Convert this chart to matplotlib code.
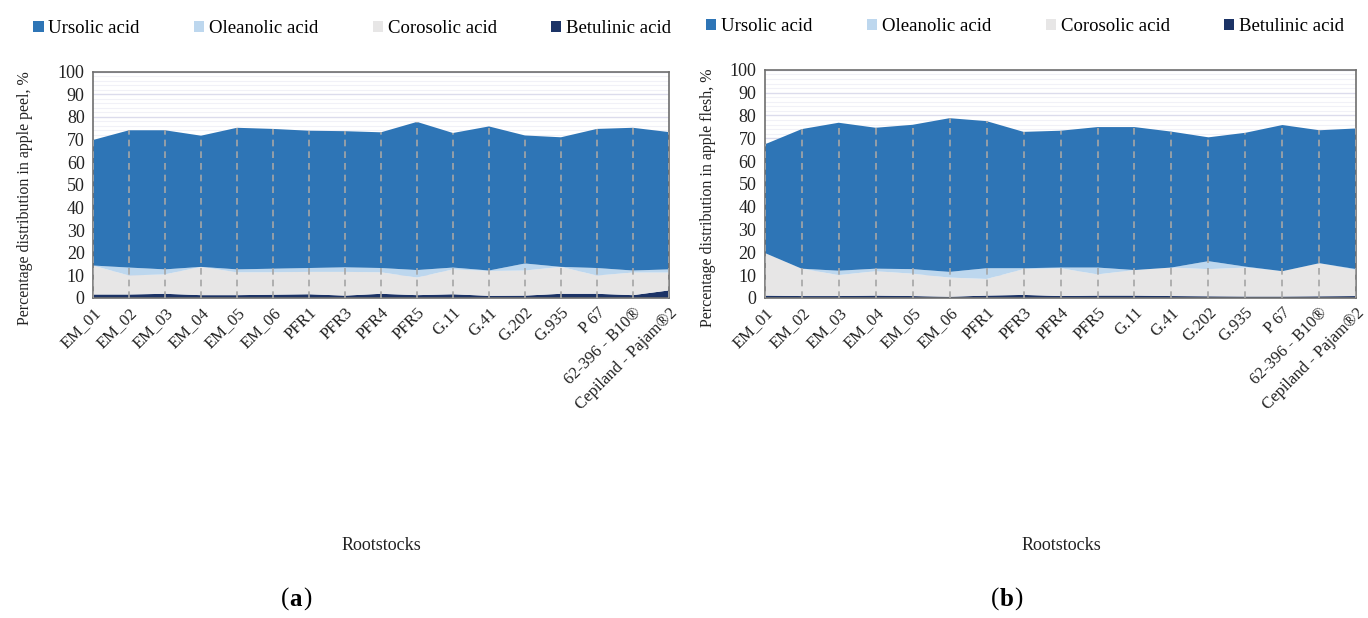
import matplotlib
matplotlib.use('Agg')
import matplotlib.pyplot as plt
import numpy as np

plt.rcParams['font.family'] = ['Liberation Serif', 'DejaVu Serif']

rootstocks = ['EM_01', 'EM_02', 'EM_03', 'EM_04', 'EM_05', 'EM_06', 'PFR1', 'PFR3', 'PFR4',
              'PFR5', 'G.11', 'G.41', 'G.202', 'G.935', 'P 67', '62-396 - B10®',
              'Cepiland - Pajam®2']
acids = ['Ursolic acid', 'Oleanolic acid', 'Corosolic acid', 'Betulinic acid']
colors = ['#2e75b6', '#bdd7ee', '#e7e6e6', '#1c3366']

### (a) apple peel, %
peel_betulinic = [1.5, 1.5, 1.8, 1.2, 1.2, 1.4, 1.6, 1.0, 1.8, 1.2, 1.6, 0.9, 1.0, 1.8, 1.8, 1.2, 3.3]
peel_corosolic = [12.8, 8.4, 8.6, 12.5, 10.1, 9.9, 9.9, 10.5, 9.5, 7.8, 11.0, 11.0, 11.1, 11.9, 8.1, 10.0, 7.9]
peel_oleanolic = [0.0, 3.5, 2.2, 0.0, 1.3, 1.6, 1.7, 2.0, 1.9, 3.3, 0.8, 0.2, 3.1, 0.0, 3.3, 0.9, 1.4]
peel_ursolic = [55.5, 60.7, 61.5, 58.0, 62.6, 61.8, 60.7, 60.2, 60.0, 65.5, 59.5, 63.7, 56.6, 57.3, 61.5, 63.1, 60.7]

### (b) apple flesh, %
flesh_betulinic = [1.0, 0.8, 0.8, 1.0, 0.8, 0.5, 1.0, 1.3, 0.8, 1.0, 1.0, 0.8, 0.7, 0.6, 0.6, 0.7, 0.8]
flesh_corosolic = [18.7, 12.0, 9.2, 10.7, 9.8, 8.4, 7.3, 11.3, 12.2, 9.3, 11.2, 12.5, 11.9, 12.7, 11.1, 14.5, 11.4]
flesh_oleanolic = [0.0, 0.0, 1.9, 1.1, 2.0, 2.5, 4.7, 0.4, 0.3, 3.0, 0.0, 0.0, 3.5, 0.4, 0.0, 0.0, 0.4]
flesh_ursolic = [47.6, 61.2, 64.9, 61.8, 63.3, 67.4, 64.5, 59.8, 60.0, 61.6, 62.7, 59.6, 54.3, 58.7, 64.1, 58.3, 61.7]

fig = plt.figure(figsize=(13.68, 6.18), dpi=100)
ax_a = fig.add_axes([0.068, 0.518, 0.421, 0.366])
ax_b = fig.add_axes([0.559, 0.518, 0.4325, 0.369])


def draw_panel(ax, layers, ylabel, legend_x, label_x):
    x = np.arange(len(rootstocks))
    # stack from the bottom: betulinic, corosolic, oleanolic, ursolic
    ax.stackplot(x, *layers[::-1], colors=colors[::-1], labels=acids[::-1], linewidth=0, zorder=2)
    total = np.sum(np.array(layers), axis=0)
    ax.vlines(x, 0, total, colors='#a6a6a6', linestyles=(0, (4, 3)), linewidth=1.2, zorder=3)

    ax.set_xlim(0, len(rootstocks) - 1)
    ax.set_ylim(0, 100)
    ax.set_yticks(range(0, 101, 10))
    ax.set_yticks(range(0, 101, 2), minor=True)
    ax.grid(True, axis='y', which='major', color='#dcdcec', linewidth=1.0, zorder=0)
    ax.grid(True, axis='y', which='minor', color='#f1f1f7', linewidth=0.8, zorder=0)
    ax.set_axisbelow(True)
    ax.set_xticks(x)
    ax.set_xticklabels(rootstocks, rotation=45, ha='right', rotation_mode='anchor')
    ax.tick_params(axis='both', which='both', length=0, colors='#222222')
    ax.tick_params(axis='x', labelsize=12, pad=5)
    ax.tick_params(axis='y', labelsize=13, pad=6)
    for s in ax.spines.values():
        s.set_color('#6e6e6e')
        s.set_linewidth(1.2)
    ax.set_ylabel(ylabel, fontsize=11.5, color='#222222')
    ax.yaxis.set_label_coords(label_x, 0.44)

    handles, labels = ax.get_legend_handles_labels()
    ax.legend(handles[::-1], labels[::-1], loc='lower center', bbox_to_anchor=(legend_x, 1.12),
              ncol=4, frameon=False, fontsize=13.5, handlelength=0.55, handleheight=0.55,
              handletextpad=0.25, columnspacing=2.9, borderaxespad=0)


draw_panel(ax_a, [peel_ursolic, peel_oleanolic, peel_corosolic, peel_betulinic],
           'Percentage distribution in apple peel, %', 0.45, -0.105)
draw_panel(ax_b, [flesh_ursolic, flesh_oleanolic, flesh_corosolic, flesh_betulinic],
           'Percentage distribution in apple flesh, %', 0.44, -0.083)

fig.text(0.279, 0.118, 'Rootstocks', ha='center', va='center', fontsize=13, color='#222222')
fig.text(0.776, 0.118, 'Rootstocks', ha='center', va='center', fontsize=13, color='#222222')
fig.text(0.2115, 0.03, '(', ha='right', va='center', fontsize=18)
fig.text(0.2115, 0.03, 'a', ha='left', va='center', fontsize=18, fontweight='bold')
fig.text(0.2215, 0.03, ')', ha='left', va='center', fontsize=18)
fig.text(0.7305, 0.03, '(', ha='right', va='center', fontsize=18)
fig.text(0.7305, 0.03, 'b', ha='left', va='center', fontsize=18, fontweight='bold')
fig.text(0.741, 0.03, ')', ha='left', va='center', fontsize=18)

plt.savefig('out.png', dpi=100)
